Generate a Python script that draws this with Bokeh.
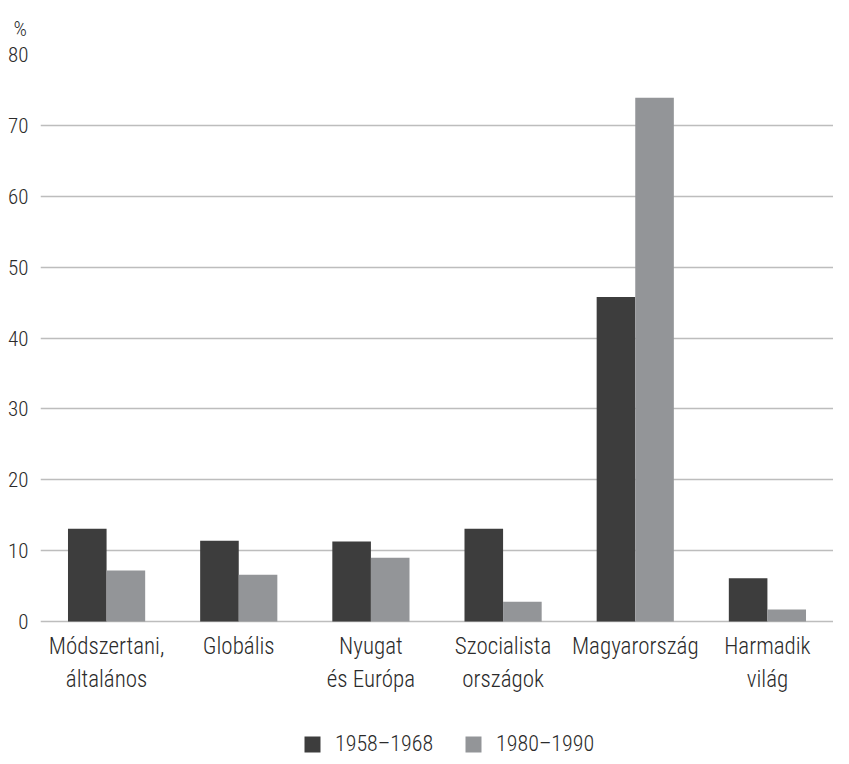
from bokeh.plotting import figure
from bokeh.models import FactorRange, Range1d, Legend, LegendItem, ColumnDataSource, FixedTicker
from bokeh.core.properties import value
from bokeh.transform import dodge
from bokeh.embed import file_html
from bokeh.resources import INLINE

categories = ["Módszertani,\náltalános", "Globális", "Nyugat\nés Európa",
              "Szocialista\nországok", "Magyarország", "Harmadik\nvilág"]
series_1958_1968 = [13.1, 11.4, 11.3, 13.1, 45.8, 6.1]
series_1980_1990 = [7.2, 6.6, 9.0, 2.8, 73.9, 1.7]
series_names = ["1958–1968", "1980–1990"]
y_ticks = [0, 10, 20, 30, 40, 50, 60, 70, 80]

FONT = "Roboto Condensed Light"
TEXT = "#2b2b2b"
DARK = "#3d3d3d"
LIGHT = "#939598"

# frame: 567 px for 0..80, plus 135 px below zero for labels and legend
PX_PER_UNIT = 567 / 80
Y_MIN = -135 / PX_PER_UNIT

src = ColumnDataSource(dict(cat=categories, a=series_1958_1968, b=series_1980_1990,
                            zero=[0] * len(categories)))

p = figure(frame_width=793, frame_height=702, x_range=FactorRange(*categories, range_padding=0),
           y_range=Range1d(Y_MIN, 80), output_backend="svg", toolbar_location=None,
           min_border_left=40, min_border_right=0, min_border_top=54, min_border_bottom=0)
p.outline_line_color = None

r1 = p.vbar(x=dodge("cat", -0.146, range=p.x_range), top="a", width=0.292, source=src,
            fill_color=DARK, line_color=None)
r2 = p.vbar(x=dodge("cat", 0.146, range=p.x_range), top="b", width=0.292, source=src,
            fill_color=LIGHT, line_color=None)

# category labels under the zero line
p.text(x="cat", y="zero", text="cat", source=src, y_offset=11,
       text_align="center", text_baseline="top", text_font=value(FONT),
       text_font_size="23px", text_color=TEXT, text_line_height=1.25)

p.xaxis.visible = False
p.xgrid.grid_line_color = None
p.ygrid.grid_line_color = "#bdbdbd"
p.ygrid.grid_line_width = 1.5
p.ygrid.ticker = FixedTicker(ticks=y_ticks)

p.yaxis.ticker = FixedTicker(ticks=y_ticks)
p.yaxis.axis_line_color = None
p.yaxis.major_tick_line_color = None
p.yaxis.minor_tick_line_color = None
p.yaxis.major_label_standoff = 6
p.yaxis.major_label_text_font = FONT
p.yaxis.major_label_text_font_size = "21px"
p.yaxis.major_label_text_color = TEXT

p.title.text = "%"
p.title.align = "left"
p.title.offset = -27
p.title.standoff = 28
p.title.text_font = FONT
p.title.text_font_style = "normal"
p.title.text_font_size = "21px"
p.title.text_color = TEXT

legend = Legend(items=[LegendItem(label=series_names[0], renderers=[r1]),
                       LegendItem(label=series_names[1], renderers=[r2])],
                orientation="horizontal", location=(262, 0),
                glyph_width=20, glyph_height=20, label_text_font=FONT,
                label_text_font_size="22px", label_text_color=TEXT,
                border_line_color=None, background_fill_alpha=0,
                spacing=30, margin=0, padding=0, label_standoff=13)
p.add_layout(legend, "center")

open("out.html", "w").write(file_html(p, INLINE))
